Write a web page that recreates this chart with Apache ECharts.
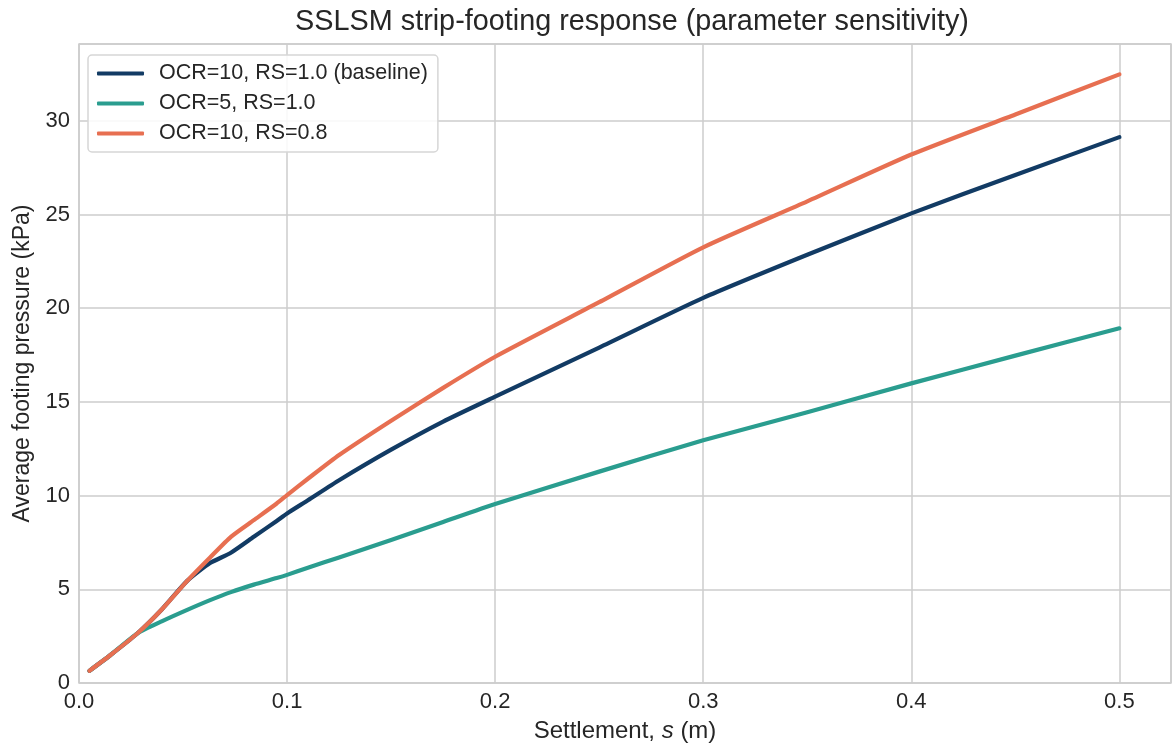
<!DOCTYPE html>
<html>
<head>
<meta charset="utf-8">
<script src="https://cdn.jsdelivr.net/npm/echarts@6/dist/echarts.min.js"></script>
<style>
html, body { margin: 0; padding: 0; background: #ffffff; }
#chart { width: 1172px; height: 753px; }
</style>
</head>
<body>
<div id="chart"></div>
<script>
const settlement = [0.005, 0.015, 0.028, 0.04, 0.052, 0.063, 0.073, 0.084, 0.095, 0.1, 0.11, 0.125, 0.15, 0.175, 0.2, 0.25, 0.3, 0.35, 0.4, 0.45, 0.5];
const baseline   = [0.65, 1.48, 2.64, 3.95, 5.45, 6.4, 6.95, 7.8, 8.65, 9.05, 9.75, 10.82, 12.45, 13.95, 15.28, 17.9, 20.55, 22.85, 25.06, 27.11, 29.13];
const ocr5       = [0.65, 1.48, 2.64, 3.3, 3.9, 4.42, 4.85, 5.25, 5.6, 5.77, 6.15, 6.7, 7.63, 8.59, 9.55, 11.28, 12.95, 14.45, 15.99, 17.47, 18.93];
const rs08       = [0.65, 1.48, 2.64, 3.95, 5.45, 6.7, 7.8, 8.69, 9.58, 10.03, 10.9, 12.17, 14.0, 15.75, 17.41, 20.32, 23.25, 25.7, 28.2, 30.34, 32.48];

const seriesNames = ['OCR=10, RS=1.0 (baseline)', 'OCR=5, RS=1.0', 'OCR=10, RS=0.8'];
const seriesColors = ['#123b64', '#2a9d8f', '#e76f51'];
const seriesValues = [baseline, ocr5, rs08];

const titleText = 'SSLSM strip-footing response (parameter sensitivity)';
const yAxisName = 'Average footing pressure (kPa)';

const FONT = '"Liberation Sans", Arial, sans-serif';
const TXT = '#262626';

const chart = echarts.init(document.getElementById('chart'), null, { renderer: 'canvas' });

const series = seriesNames.map((name, k) => ({
  name: name,
  type: 'line',
  data: settlement.map((s, i) => [s, seriesValues[k][i]]),
  showSymbol: false,
  symbol: 'none',
  smooth: 0.2,
  lineStyle: { color: seriesColors[k], width: 4.2, cap: 'round', join: 'round' },
  itemStyle: { color: seriesColors[k] },
  emphasis: { disabled: true },
  z: 2 + k
}));

chart.setOption({
  animation: false,
  backgroundColor: '#ffffff',
  title: {
    text: titleText,
    left: 627,
    top: 3,
    textAlign: 'center',
    textStyle: { fontFamily: FONT, fontSize: 28.8, fontWeight: 'normal', color: TXT }
  },
  grid: {
    left: 79, right: 1, top: 44, bottom: 70,
    show: true, borderColor: '#cccccc', borderWidth: 1.5, backgroundColor: 'transparent'
  },
  legend: {
    orient: 'vertical',
    left: 88, top: 55,
    padding: [6, 10, 6, 9],
    itemWidth: 47, itemHeight: 4,
    itemGap: 5,
    icon: 'roundRect',
    backgroundColor: 'rgba(255,255,255,0.85)',
    borderColor: '#d6d6d6', borderWidth: 1.5, borderRadius: 4,
    textStyle: { fontFamily: FONT, fontSize: 21.5, color: TXT, lineHeight: 25, padding: [0, 0, 0, 10] },
    data: seriesNames
  },
  xAxis: {
    type: 'value',
    min: 0, max: 0.5248, interval: 0.1,
    name: '{a|Settlement, }{i|s}{a| (m)}',
    nameLocation: 'middle',
    nameGap: 36,
    nameTextStyle: {
      rich: {
        a: { fontFamily: FONT, fontSize: 24, color: TXT },
        i: { fontFamily: FONT, fontSize: 24, color: TXT, fontStyle: 'italic' }
      }
    },
    axisLine: { show: false },
    axisTick: { show: false },
    axisLabel: {
      showMaxLabel: false,
      margin: 8,
      fontFamily: FONT, fontSize: 22, color: TXT,
      formatter: v => v.toFixed(1)
    },
    splitLine: { show: true, lineStyle: { color: '#cccccc', width: 1.5 } }
  },
  yAxis: {
    type: 'value',
    min: 0, max: 34.1, interval: 5,
    name: yAxisName,
    nameLocation: 'middle',
    nameGap: 43,
    nameTextStyle: { fontFamily: FONT, fontSize: 23, color: TXT },
    axisLine: { show: false },
    axisTick: { show: false },
    axisLabel: {
      showMaxLabel: false,
      margin: 9,
      fontFamily: FONT, fontSize: 22, color: TXT
    },
    splitLine: { show: true, lineStyle: { color: '#cccccc', width: 1.5 } }
  },
  series: series
});
</script>
</body>
</html>
